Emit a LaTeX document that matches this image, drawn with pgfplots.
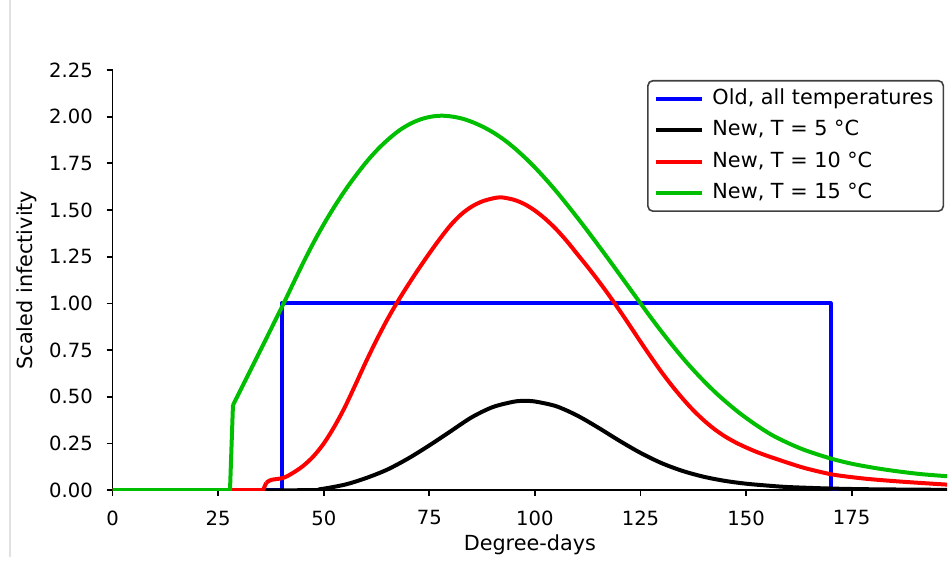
\documentclass[border=0pt]{standalone}
\usepackage{pgfplots}
\pgfplotsset{compat=1.18}
\usepackage{fontspec}
\setmainfont{DejaVu Sans}
\definecolor{cblue}{RGB}{0,0,255}
\definecolor{cred}{RGB}{255,0,0}
\definecolor{cgreen}{RGB}{0,190,0}

\begin{document}
\begin{tikzpicture}
\begin{axis}[
    name=ax,
    scale only axis,
    width=417.65pt,
    height=210.35pt,
    xmin=0, xmax=197.6,
    ymin=0, ymax=2.25,
    axis lines=left,
    axis line style={-, line width=0.9pt},
    tick align=outside,
    major tick length=3pt,
    tick style={black, line width=0.9pt},
    xtick={0,25,50,75,100,125,150,175},
    ytick={0,0.25,0.5,0.75,1,1.25,1.5,1.75,2,2.25},
    /pgf/number format/assume math mode=true,
    yticklabel style={/pgf/number format/fixed, /pgf/number format/fixed zerofill,
        /pgf/number format/precision=2, font=\fontsize{9.8}{11}\selectfont, xshift=-3.4pt},
    xticklabel style={font=\fontsize{9.8}{11}\selectfont, yshift=-3.7pt},
    xlabel={Degree-days},
    ylabel={Scaled infectivity},
    label style={font=\fontsize{10.4}{12}\selectfont},
    xlabel style={at={(axis description cs:0.5,-0.129)}, anchor=center},
    ylabel style={at={(axis description cs:-0.1026,0.5)}, anchor=center},
    legend style={at={(1,1)}, anchor=north east, xshift=-1.5pt, yshift=-5pt,
        draw=black!75, line width=0.8pt, rounded corners=2.5pt,
        font=\fontsize{10.4}{12}\selectfont, inner xsep=3pt, inner ysep=2pt,
        row sep=1.5pt, column sep=2pt,
        nodes={inner sep=2pt, text height=7.8pt, text depth=2.4pt},
        cells={anchor=west}},
    legend image code/.code={\draw[#1] (0pt,0pt) -- (23.3pt,0pt);},
    no markers,
    every axis plot/.append style={line width=2pt, line join=round},
]

% old model: step function
\addplot[cblue] coordinates {
    (0,0) (40,0) (40,1) (170,1) (170,0) (197.6,0)
};
\addlegendentry{Old, all temperatures}

% T = 5
\addplot[black, smooth] coordinates {
    (0,0) (45,0) (49,0.005) (55,0.03) (60,0.065) (65,0.11) (70,0.17)
    (75,0.24) (80,0.315) (85,0.39) (90,0.445) (95,0.474) (97.5,0.478)
    (100,0.475) (105,0.45) (110,0.4) (115,0.335) (120,0.265) (125,0.2)
    (130,0.145) (135,0.103) (140,0.072) (145,0.05) (150,0.035) (155,0.025)
    (160,0.017) (170,0.009) (180,0.005) (197.6,0.002)
};
\addlegendentry{New, T = 5 °C}

% T = 10
\addplot[cred, smooth] coordinates {
    (36.4,0.04) (37.5,0.055) (40.4,0.066) (42.5,0.09) (45,0.128)
    (47.5,0.18) (50,0.25) (52.5,0.34) (55,0.445) (57.5,0.565) (60,0.688)
    (62.5,0.804) (65,0.912) (67.5,1.01) (70,1.1) (72.5,1.186) (75,1.268)
    (77.5,1.346) (80,1.418) (82.5,1.476) (85,1.518) (87.5,1.546)
    (90,1.562) (92,1.568) (95,1.555) (97.5,1.532) (100,1.497) (102.5,1.452)
    (105,1.398) (107.5,1.335) (110,1.265) (112.5,1.195) (115,1.122)
    (117.5,1.045) (120,0.964) (122.5,0.88) (125,0.795) (127.5,0.712)
    (130,0.632) (132.5,0.558) (135,0.49) (137.5,0.428) (140,0.374)
    (142.5,0.327) (145,0.288) (147.5,0.256) (150,0.229) (152.5,0.205)
    (155,0.184) (157.5,0.165) (160,0.146) (164,0.118) (170,0.086)
    (175,0.07) (180,0.058) (188,0.044) (197.6,0.03)
};
\addlegendentry{New, T = 10 °C}
\addplot[cred, forget plot] coordinates {(0,0) (35.6,0) (36.4,0.04)};

% T = 15
\addplot[cgreen, smooth] coordinates {
    (28.5,0.455) (31,0.568) (34,0.704) (37,0.84) (40.5,1.0) (43,1.118)
    (45.5,1.234) (48,1.343) (50.5,1.443) (53,1.535) (55.5,1.62) (58,1.697)
    (60.5,1.768) (63,1.83) (65.5,1.883) (68,1.928) (70.5,1.962) (73,1.986)
    (75.5,2.0) (78,2.005) (80.5,2.0) (83,1.988) (85.5,1.968) (88,1.942)
    (90.5,1.91) (93,1.871) (95.5,1.825) (98,1.773) (100.5,1.716)
    (103,1.654) (105.5,1.588) (108,1.518) (110.5,1.446) (113,1.372)
    (115.5,1.296) (118,1.219) (120.5,1.141) (123,1.063) (125.5,0.985)
    (128,0.908) (130.5,0.834) (133,0.763) (135.5,0.695) (138,0.632)
    (140.5,0.573) (143,0.518) (145.5,0.468) (148.4,0.414) (152,0.355)
    (156,0.297) (160,0.252) (164,0.214) (170,0.17) (175,0.142) (180,0.121)
    (184,0.107) (188,0.095) (192,0.085) (197.6,0.075)
};
\addlegendentry{New, T = 15 °C}
\addplot[cgreen, forget plot] coordinates {(0,0) (27.8,0) (28.5,0.455)};

\end{axis}
\path[use as bounding box] ([shift={(-56.35pt,-33.65pt)}]ax.south west)
    rectangle ([shift={(0pt,35pt)}]ax.north east);
\draw[black!12, line width=1pt] ([shift={(-51.35pt,-33.65pt)}]ax.south west)
    -- ([shift={(-51.35pt,35pt)}]ax.north west);
\end{tikzpicture}
\end{document}
